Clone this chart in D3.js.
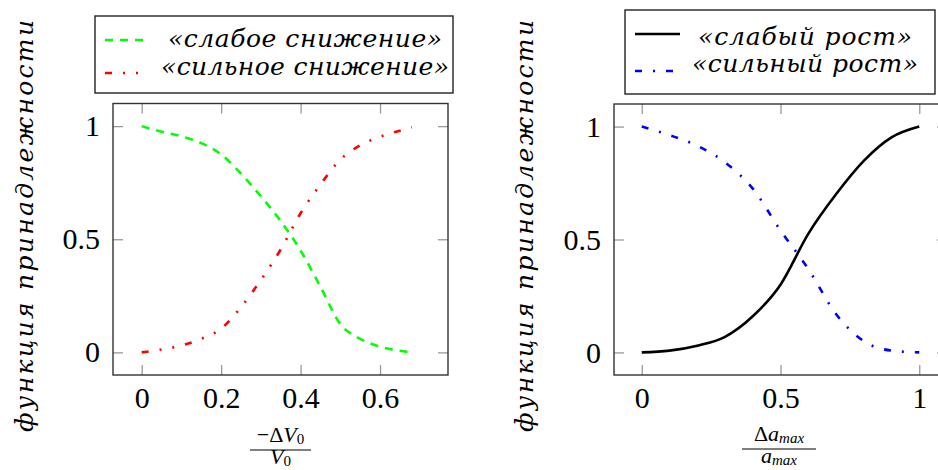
<!DOCTYPE html>
<html>
<head>
<meta charset="utf-8">
<script src="https://cdnjs.cloudflare.com/ajax/libs/d3/7.8.5/d3.min.js"></script>
<style>
    body { margin: 0; background: #fff; }
    svg text { font-family: "Liberation Serif", "DejaVu Serif", serif; fill: #000; }
    svg text.it { font-family: "DejaVu Serif", serif; font-style: italic; }
</style>
</head>
<body>
<svg id="chart" width="938" height="470"></svg>
<script>
// left panel: -dV0/V0
var xDecrease = [0, 0.05, 0.1, 0.15, 0.2, 0.25, 0.3, 0.35, 0.4, 0.45, 0.5, 0.55, 0.6, 0.65, 0.68];
var weakDecrease = [1, 0.975, 0.955, 0.925, 0.875, 0.79, 0.69, 0.58, 0.45, 0.29, 0.125, 0.06, 0.025, 0.007, 0];
var strongDecrease = [0, 0.013, 0.03, 0.06, 0.105, 0.2, 0.32, 0.455, 0.615, 0.742, 0.852, 0.915, 0.953, 0.98, 0.995];
var decreaseTicks = [0, 0.2, 0.4, 0.6];
var decreaseNames = ["«слабое снижение»", "«сильное снижение»"];

// right panel: da_max/a_max
var xGrowth = [0, 0.1, 0.2, 0.3, 0.4, 0.5, 0.6, 0.7, 0.8, 0.9, 1];
var weakGrowth = [0, 0.008, 0.03, 0.069, 0.16, 0.3, 0.525, 0.7, 0.848, 0.952, 1];
var strongGrowth = [1, 0.962, 0.915, 0.842, 0.725, 0.54, 0.37, 0.17, 0.05, 0.008, 0];
var growthTicks = [0, 0.5, 1];
var growthNames = ["«слабый рост»", "«сильный рост»"];

var yTicks = [0, 0.5, 1];
var yLabel = "функция принадлежности";

var svg = d3.select("#chart");
var fmt = d3.format("~g");

function drawPanel(cfg) {
    var g = svg.append("g");
    var x = d3.scaleLinear().domain(cfg.xDomain).range(cfg.xRange);
    var y = d3.scaleLinear().domain([-0.1, 1.1]).range([375, cfg.top]);
    var left = cfg.xRange[0], right = cfg.xRange[1];

    // ticks all round, pointing in
    var bottom = g.append("g").attr("transform", "translate(0,375)")
        .call(d3.axisBottom(x).tickValues(cfg.xTicks).tickSize(-10).tickFormat(fmt));
    bottom.selectAll("text").attr("y", 32.5).attr("dy", null);
    g.append("g").attr("transform", "translate(0," + cfg.top + ")")
        .call(d3.axisTop(x).tickValues(cfg.xTicks).tickSize(-10).tickFormat(""));
    var leftAx = g.append("g").attr("transform", "translate(" + left + ",0)")
        .call(d3.axisLeft(y).tickValues(yTicks).tickSize(-10).tickFormat(fmt));
    leftAx.selectAll("text").attr("x", -13);
    g.append("g").attr("transform", "translate(" + right + ",0)")
        .call(d3.axisRight(y).tickValues(yTicks).tickSize(-10).tickFormat(""));
    g.selectAll(".domain").remove();
    g.selectAll(".tick line").attr("stroke", "#999").attr("stroke-width", 1.3);
    g.selectAll(".tick text").attr("fill", "#000")
        .style("font-family", "Liberation Serif").style("font-size", "30px");

    g.append("rect")
        .attr("x", left).attr("y", cfg.top)
        .attr("width", right - left).attr("height", 375 - cfg.top)
        .attr("fill", "none").attr("stroke", "#333").attr("stroke-width", 1.4);

    cfg.series.forEach(function (s) {
        var line = d3.line()
            .x(function (d, i) { return x(cfg.xs[i]); })
            .y(function (d) { return y(d); })
            .curve(d3.curveMonotoneX);
        g.append("path").datum(s.values)
            .attr("d", line)
            .attr("fill", "none")
            .attr("stroke", s.color)
            .attr("stroke-width", 2.6)
            .attr("stroke-dasharray", s.dash);
    });

    // y label
    g.append("text").attr("class", "it")
        .attr("transform", "translate(" + cfg.yLabelX + ",432) rotate(-90)")
        .attr("textLength", 412).attr("lengthAdjust", "spacing")
        .style("font-size", "25px")
        .text(yLabel);

    // legend
    var lg = cfg.legend;
    g.append("rect")
        .attr("x", lg.x).attr("y", lg.y).attr("width", lg.w).attr("height", lg.h)
        .attr("fill", "#fff").attr("stroke", "#222").attr("stroke-width", 1.4);
    cfg.series.forEach(function (s, i) {
        g.append("line")
            .attr("x1", lg.sx1).attr("x2", lg.sx2)
            .attr("y1", lg.lineY[i]).attr("y2", lg.lineY[i])
            .attr("stroke", s.color).attr("stroke-width", 2.6)
            .attr("stroke-dasharray", s.dash);
        g.append("text").attr("class", "it")
            .attr("x", lg.cx).attr("y", lg.baseY[i])
            .attr("text-anchor", "middle")
            .attr("textLength", lg.widths[i]).attr("lengthAdjust", "spacing")
            .style("font-size", "25px")
            .text(s.name);
    });
}

drawPanel({
    xs: xDecrease,
    xDomain: [-0.0723, 0.7711], xRange: [113, 448], top: 103.5,
    xTicks: decreaseTicks, yLabelX: 33,
    series: [
        { name: decreaseNames[0], values: weakDecrease, color: "#00ff00", dash: "8,7" },
        { name: decreaseNames[1], values: strongDecrease, color: "#ff0000", dash: "7,11,2,11,2,11" }
    ],
    legend: { x: 95, y: 16, w: 358, h: 77, sx1: 105, sx2: 148, cx: 305, lineY: [40, 73], baseY: [47, 75], widths: [274, 288] }
});

drawPanel({
    xs: xGrowth,
    xDomain: [-0.1, 1.1], xRange: [614, 947], top: 104,
    xTicks: growthTicks, yLabelX: 533,
    series: [
        { name: growthNames[0], values: weakGrowth, color: "#000", dash: null },
        { name: growthNames[1], values: strongGrowth, color: "#0000ff", dash: "7,11,2,11" }
    ],
    legend: { x: 625, y: 10, w: 310, h: 84, sx1: 635, sx2: 680, cx: 805, lineY: [34, 71], baseY: [45, 72], widths: [214, 226] }
});

// x axis labels as fractions
function fraction(cx, barY, x1, x2, num, den) {
    var g = svg.append("g").style("font-size", "22px");
    g.append("line").attr("x1", x1).attr("x2", x2).attr("y1", barY).attr("y2", barY)
        .attr("stroke", "#000").attr("stroke-width", 1.2);
    [[num, barY - 8], [den, barY + 14]].forEach(function (row) {
        var t = g.append("text").attr("x", cx).attr("y", row[1]).attr("text-anchor", "middle");
        row[0].forEach(function (p) {
            var ts = t.append("tspan").text(p.t);
            if (p.it) ts.style("font-style", "italic");
            if (p.sub) ts.attr("dy", 2).style("font-size", "15px");
        });
    });
}

fraction(280.5, 450, 250, 311,
    [{ t: "−Δ" }, { t: "V", it: true }, { t: "0", sub: true }],
    [{ t: "V", it: true }, { t: "0", sub: true }]);
fraction(779, 449, 742, 816,
    [{ t: "Δ" }, { t: "a", it: true }, { t: "max", it: true, sub: true }],
    [{ t: "a", it: true }, { t: "max", it: true, sub: true }]);
</script>
</body>
</html>
